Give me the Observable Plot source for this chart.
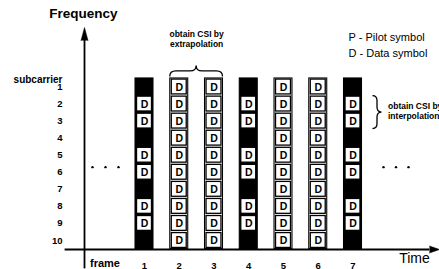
<!DOCTYPE html>
<html>
<head>
<meta charset="utf-8">
<script src="https://cdn.jsdelivr.net/npm/d3@7"></script>
<script src="https://cdn.jsdelivr.net/npm/@observablehq/plot@0.6"></script>
<style>
html, body { margin: 0; padding: 0; background: #fff; }
#chart svg { display: block; }
</style>
</head>
<body>
<div id="chart"></div>
<script>
// ---- data ----
const frames = [1, 2, 3, 4, 5, 6, 7];
const pilotFrames = [1, 4, 7];
const subcarriers = [1, 2, 3, 4, 5, 6, 7, 8, 9, 10];
const pilotSubcarriers = [1, 4, 7, 10];
const italicSubcarriers = [9];
const frameTickLabels = ["1", "2", "3", "4", "5", "6", "7"];
const subcarrierTickLabels = ["1", "2", "3", "4", "5", "6", "7", "8", "9", "10"];
const legendLines = ["P - Pilot symbol", "D - Data symbol"];
const extrapolationFrames = [2, 3];
const interpolationSubcarriers = [2, 3];
const extrapolationNote = ["obtain CSI by", "extrapolation"];
const interpolationNote = ["obtain CSI by", "interpolation"];
const yAxisTitle = "Frequency";
const xAxisTitle = "Time";
const yTickTitle = "subcarrier";
const xTickTitle = "frame";
const dataSymbol = "D";

// ---- derived tables ----
const columns = frames.map(f => ({frame: f, pilot: pilotFrames.includes(f)}));
const dataCells = [];
for (const f of frames) for (const s of subcarriers) {
  const isPilot = pilotFrames.includes(f) && pilotSubcarriers.includes(s);
  if (!isPilot) dataCells.push({frame: f, sub: s});
}
const subMin = d3.min(subcarriers), subMax = d3.max(subcarriers);
const lastPilot = d3.max(pilotFrames);

function pickScales(args) {
  return args.find(a => a && typeof a.x === "function" && typeof a.y === "function");
}
function braceTop(...args) {
  const s = pickScales(args);
  const x1 = s.x(d3.min(extrapolationFrames)) - 9, x2 = s.x(d3.max(extrapolationFrames)) + 9;
  const y0 = s.y(subMin - 0.5) - 1.5, h = 11;
  const xm = (x1 + x2) / 2, ym = y0 - h / 2, yt = y0 - h, q = 6;
  const p = d3.create("svg:path")
    .attr("fill", "none").attr("stroke", "black").attr("stroke-width", 1.3)
    .attr("d", `M${x1},${y0} Q${x1},${ym} ${x1 + q},${ym} L${xm - q},${ym} Q${xm},${ym} ${xm},${yt} Q${xm},${ym} ${xm + q},${ym} L${x2 - q},${ym} Q${x2},${ym} ${x2},${y0}`);
  return p.node();
}
function braceRight(...args) {
  const s = pickScales(args);
  const y1 = s.y(d3.min(interpolationSubcarriers)) - 8, y2 = s.y(d3.max(interpolationSubcarriers)) + 8;
  const x0 = s.x(lastPilot) + 20, w = 9;
  const xm = x0 + w / 2, xt = x0 + w, ymid = (y1 + y2) / 2, q = 5;
  const p = d3.create("svg:path")
    .attr("fill", "none").attr("stroke", "black").attr("stroke-width", 1.3)
    .attr("d", `M${x0},${y1} Q${xm},${y1} ${xm},${y1 + q} L${xm},${ymid - q} Q${xm},${ymid} ${xt},${ymid} Q${xm},${ymid} ${xm},${ymid + q} L${xm},${y2 - q} Q${xm},${y2} ${x0},${y2}`);
  return p.node();
}

const font = "'Liberation Sans', Arial, Helvetica, sans-serif";
const dotMarks = [];
for (const k of [-1, 0, 1]) {
  dotMarks.push(Plot.dot([0], {x: d => d, y: () => d3.mean(subcarriers), dx: -4.25 + 13 * k, dy: 3.4, r: 1.2, fill: "black", stroke: "none"}));
  dotMarks.push(Plot.dot([frames.length + 1], {x: d => d, y: () => d3.mean(subcarriers), dx: 8.25 + 12.5 * k, dy: 3.4, r: 1.2, fill: "black", stroke: "none"}));
}

const chart = Plot.plot({
  width: 439,
  height: 269,
  marginLeft: 84,
  marginTop: 40,
  marginRight: 10,
  marginBottom: 20,
  style: {fontFamily: font, fontSize: "10px", background: "white", color: "black"},
  x: {type: "linear", domain: [1, 7], range: [144, 352.5]},
  y: {type: "linear", domain: [1, 10], range: [86.5, 240]},
  marks: [
    // columns
    Plot.rect(columns, {
      x1: d => d.frame - 0.5, x2: d => d.frame + 0.5,
      y1: subMin - 0.5, y2: subMax + 0.5,
      insetLeft: 8.4, insetRight: 8.4,
      fill: d => d.pilot ? "black" : "white",
      stroke: "black", strokeWidth: 1.1
    }),
    // data symbol boxes
    Plot.rect(dataCells, {
      x1: d => d.frame - 0.5, x2: d => d.frame + 0.5,
      y1: d => d.sub - 0.5, y2: d => d.sub + 0.5,
      insetLeft: 9.9, insetRight: 9.9, insetTop: 1.1, insetBottom: 1.1,
      fill: "white", stroke: "black", strokeWidth: 1.3
    }),
    Plot.text(dataCells, {
      x: "frame", y: "sub", text: () => dataSymbol,
      fontSize: 10.5, fontWeight: "bold", dy: 0.5,
      fontStyle: d => italicSubcarriers.includes(d.sub) ? "italic" : "normal"
    }),
    // axes lines + arrowheads
    Plot.frame({anchor: "left", strokeWidth: 1.8, insetBottom: -18, insetTop: -1}),
    Plot.frame({anchor: "bottom", strokeWidth: 1.8, insetLeft: -19, insetRight: 1}),
    Plot.vector([0], {frameAnchor: "top-left", length: 13, r: 3.5, shape: "spike", anchor: "start", rotate: 0, fill: "black", stroke: "black", strokeWidth: 0.5}),
    Plot.vector([0], {frameAnchor: "bottom-right", length: 10, r: 3.5, shape: "spike", anchor: "start", rotate: 90, fill: "black", stroke: "black", strokeWidth: 0.5}),
    // tick labels
    Plot.axisY(subcarriers, {anchor: "left", tickSize: 0, tickPadding: 22, fontWeight: "bold", fontSize: 9.5, tickFormat: d => subcarrierTickLabels[subcarriers.indexOf(d)], label: null}),
    Plot.axisX(frames, {anchor: "bottom", tickSize: 0, tickPadding: 12.5, fontWeight: "bold", fontSize: 9.5, tickFormat: d => frameTickLabels[frames.indexOf(d)], label: null}),
    Plot.text([xTickTitle], {frameAnchor: "bottom-left", dx: 20.5, dy: 14, textAnchor: "middle", lineAnchor: "middle", fontSize: 11, fontWeight: "bold"}),
    Plot.text([yTickTitle], {frameAnchor: "top-left", dx: -22, dy: 39.5, textAnchor: "end", lineAnchor: "middle", fontSize: 10, fontWeight: "bold"}),
    // axis titles
    Plot.text([yAxisTitle], {frameAnchor: "top-left", dx: -1, dy: -26.5, textAnchor: "middle", lineAnchor: "middle", fontSize: 13.5, fontWeight: "bold"}),
    Plot.text([xAxisTitle], {frameAnchor: "bottom-right", dx: -15, dy: 9.5, textAnchor: "middle", lineAnchor: "middle", fontSize: 14}),
    // legend
    Plot.text([legendLines.join("\n")], {frameAnchor: "top-right", dx: -81, dy: 3.75, textAnchor: "start", lineAnchor: "middle", lineHeight: 1.41, fontSize: 11}),
    // annotations
    braceTop,
    braceRight,
    Plot.text([extrapolationNote.join("\n")], {x: () => d3.mean(extrapolationFrames), frameAnchor: "top", dy: -1.5, textAnchor: "middle", lineAnchor: "middle", lineHeight: 1.2, fontSize: 8.5, fontWeight: "bold"}),
    Plot.text([interpolationNote.join("\n")], {x: () => lastPilot, y: () => d3.mean(interpolationSubcarriers), dx: 35, dy: -1.5, textAnchor: "start", lineAnchor: "middle", lineHeight: 1.1, fontSize: 8.5, fontWeight: "bold"}),
    ...dotMarks
  ]
});
document.getElementById("chart").append(chart);
</script>
</body>
</html>
